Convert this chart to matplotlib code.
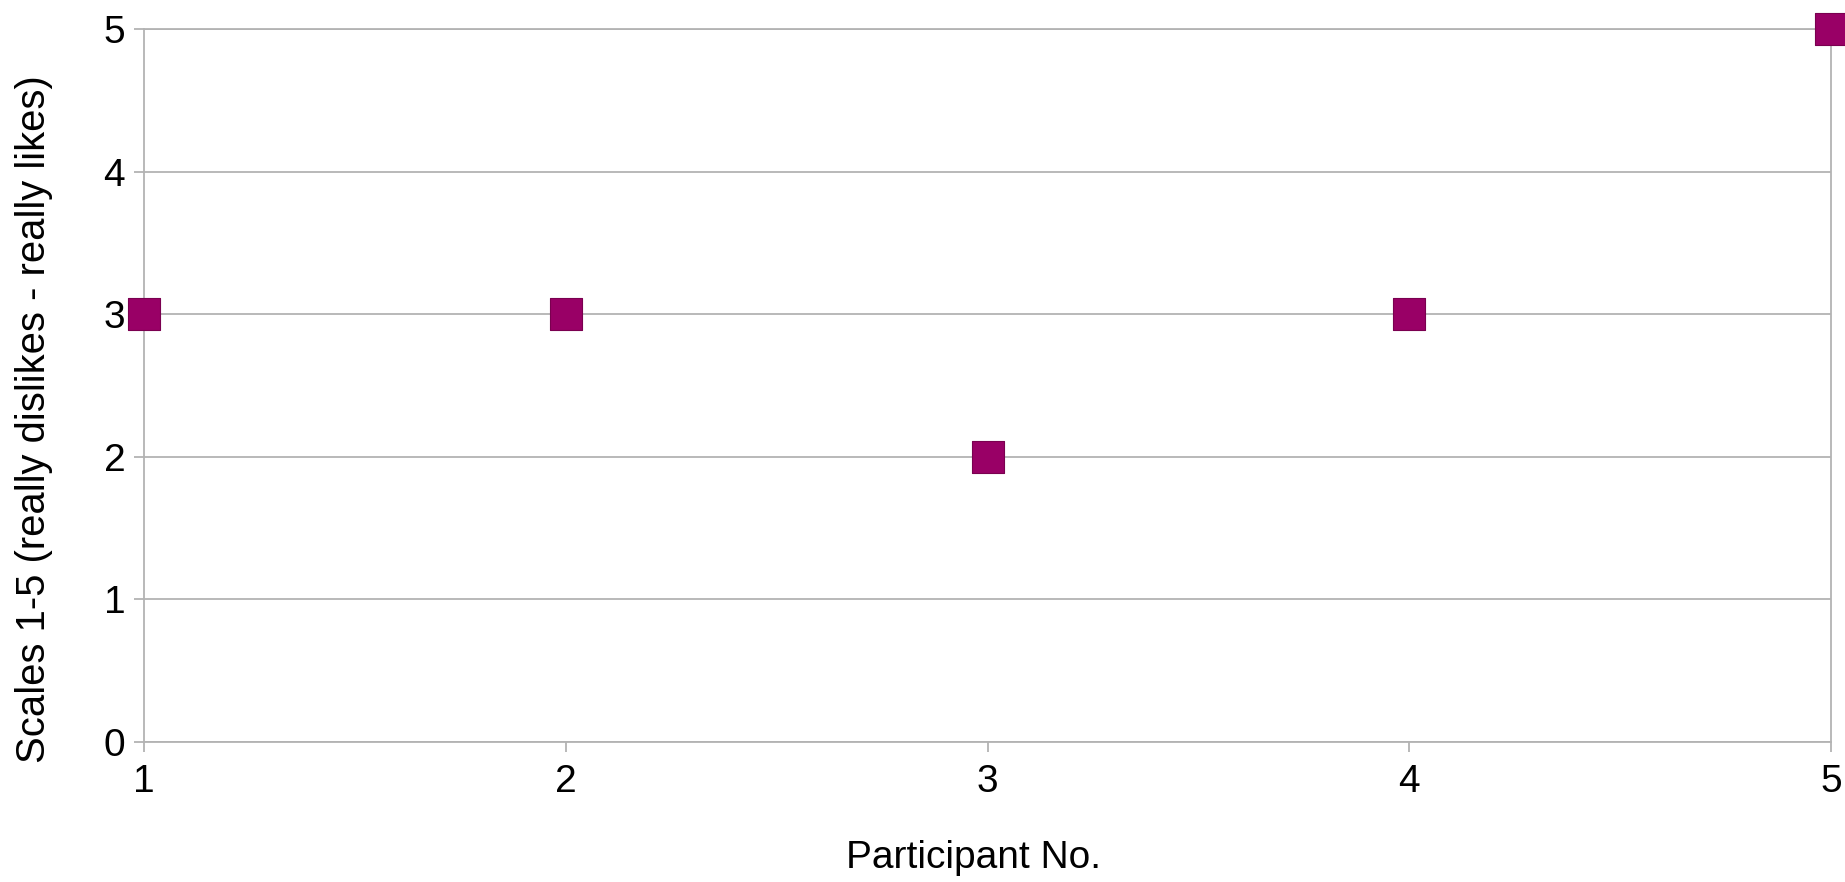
import matplotlib
matplotlib.use("Agg")
import matplotlib.pyplot as plt

participants = [1, 2, 3, 4, 5]
scores = [3, 3, 2, 3, 5]
x_ticks = [1, 2, 3, 4, 5]
y_ticks = [0, 1, 2, 3, 4, 5]

plt.rcParams['font.family'] = ['Liberation Sans', 'DejaVu Sans']

fig = plt.figure(figsize=(18.45, 8.82), dpi=100)
ax = fig.add_axes([144/1845, 1 - 742/882, (1831 - 144)/1845, (742 - 29)/882])

grid_color = '#b3b3b3'
ax.set_xlim(1, 5)
ax.set_ylim(0, 5)
ax.set_xticks(x_ticks)
ax.set_yticks(y_ticks)
ax.yaxis.grid(True, color=grid_color, linewidth=1.3)
ax.set_axisbelow(True)
for s in ax.spines.values():
    s.set_color(grid_color)
    s.set_linewidth(1.3)

ax.tick_params(axis='both', which='major', labelsize=28, color=grid_color,
               length=7.5, width=1.3, direction='out')
ax.tick_params(axis='x', pad=8.5)
ax.tick_params(axis='y', pad=6)

ax.scatter(participants, scores, marker='s', s=23.5**2, color='#990066',
           edgecolors='#7a0050', linewidths=0.8, clip_on=False, zorder=5)

ax.set_xlabel('Participant No.', fontsize=28)
ax.set_ylabel('Scales 1-5 (really dislikes - really likes)', fontsize=28.8)
ax.xaxis.set_label_coords(0.4917, -0.137)
ax.yaxis.set_label_coords(-0.054, 0.453)

fig.savefig('out.png', dpi=100, facecolor='white')
